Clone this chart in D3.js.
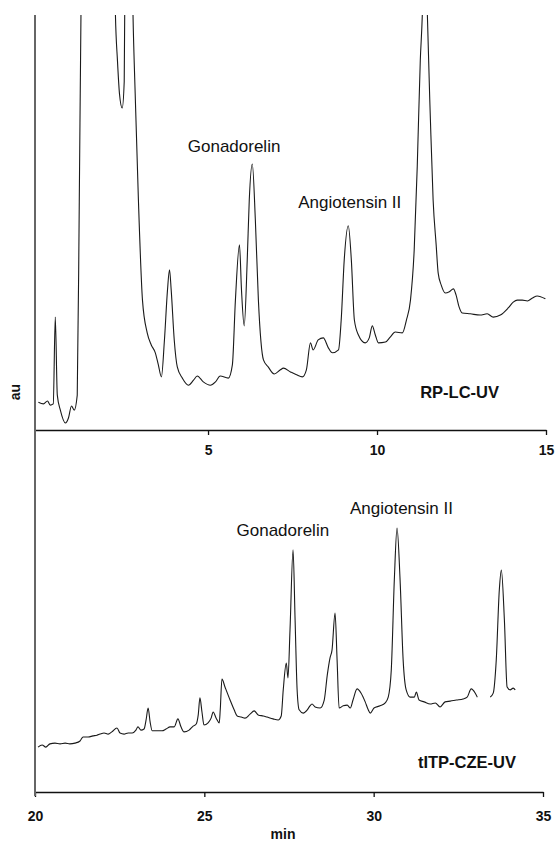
<!DOCTYPE html>
<html>
<head>
<meta charset="utf-8">
<script src="https://cdn.jsdelivr.net/npm/d3@7"></script>
<style>
  body { margin: 0; background: #fff; }
  svg { display: block; font-family: "Liberation Sans", Arial, sans-serif; }
</style>
</head>
<body>
<div id="chart"></div>
<script>
// RP-LC-UV trace: retention time (min), absorbance (arbitrary, 0-100 = panel height)
const lcTime = [-0.02, 0.13, 0.25, 0.33, 0.42, 0.48, 0.54, 0.63, 0.78, 0.87, 0.96, 1.04, 1.13, 1.19, 1.24, 1.3, 1.6, 2.0, 2.2, 2.26,
  2.32, 2.38, 2.46, 2.52, 2.56, 2.62, 2.72, 2.78, 2.85, 2.94, 3.06, 3.2, 3.32, 3.44, 3.53, 3.62, 3.71, 3.8, 3.86, 3.91,
  4.0, 4.09, 4.24, 4.42, 4.57, 4.68, 4.86, 5.07, 5.22, 5.36, 5.6, 5.72, 5.81, 5.93, 5.99, 6.07, 6.16, 6.22, 6.31, 6.4,
  6.49, 6.64, 6.78, 6.96, 7.14, 7.23, 7.44, 7.62, 7.79, 7.91, 8.03, 8.11, 8.26, 8.41, 8.56, 8.68, 8.86, 8.94, 9.03, 9.15,
  9.24, 9.33, 9.45, 9.65, 9.77, 9.86, 9.95, 10.04, 10.25, 10.39, 10.54, 10.75, 10.87, 10.99, 11.1, 11.19, 11.28, 11.34, 11.42, 11.49,
  11.58, 11.66, 11.75, 11.81, 11.9, 12.02, 12.14, 12.26, 12.34, 12.43, 12.52, 12.76, 13.05, 13.26, 13.44, 13.65, 13.88, 14.03, 14.15, 14.3,
  14.45, 14.6, 14.74, 14.98];
const lcSignal = [6.7, 6.3, 7.0, 6.0, 6.3, 27.2, 8.4, 4.8, 1.7, 2.9, 5.8, 4.8, 8.4, 55, 100, 130, 140, 140, 130, 100,
  89, 81, 77.6, 84, 130, 140, 130, 100, 79.5, 55.4, 31.3, 23.4, 20.5, 18.6, 15.7, 12.8, 21.7, 33.7, 38.6, 33.7,
  21.7, 15.2, 12.5, 10.8, 12.0, 13.0, 11.6, 10.8, 11.6, 13.0, 12.5, 15.7, 31.3, 44.6, 33.7, 25.1, 41, 55.4, 64.1, 50.6,
  31.3, 16.9, 15.2, 13.5, 14.5, 14.9, 14.0, 13.3, 12.8, 14.5, 21.0, 19.3, 21.7, 22.2, 19.8, 18.6, 19.3, 26.5, 41, 49.2,
  41, 26.5, 22.9, 21.0, 22.2, 25.1, 22.9, 21.0, 21.2, 22.4, 23.6, 23.4, 26.5, 31.3, 43.4, 63.4, 89, 100, 130, 100,
  74.7, 55.4, 44.6, 37.8, 34.9, 33.0, 33.3, 34.0, 32.5, 29.6, 28.2, 28.0, 27.7, 28.0, 27.2, 27.7, 29.4, 30.8, 31.3, 31.3,
  31.1, 31.8, 32.3, 31.6];

// tITP-CZE-UV trace: migration time (min), absorbance (arbitrary); null = gap in the recording
const ceTime = [20.09, 20.21, 20.32, 20.44, 20.59, 20.74, 20.89, 21.03, 21.18, 21.33, 21.42, 21.57, 21.71, 21.83, 21.92, 22.04, 22.16, 22.27, 22.42, 22.51,
  22.63, 22.75, 22.87, 22.98, 23.04, 23.13, 23.22, 23.28, 23.34, 23.4, 23.46, 23.6, 23.75, 23.87, 23.99, 24.11, 24.22, 24.31, 24.4, 24.55,
  24.67, 24.76, 24.82, 24.87, 24.93, 24.99, 25.11, 25.2, 25.26, 25.35, 25.44, 25.47, 25.52, 25.61, 25.76, 25.88, 25.97, 26.09, 26.2, 26.35,
  26.47, 26.59, 26.74, 26.85, 27.03, 27.18, 27.27, 27.33, 27.42, 27.47, 27.53, 27.62, 27.68, 27.74, 27.8, 27.92, 28.04, 28.12, 28.18, 28.27,
  28.42, 28.54, 28.63, 28.71, 28.77, 28.86, 28.92, 28.98, 29.1, 29.22, 29.31, 29.39, 29.51, 29.63, 29.75, 29.84, 29.9, 30.01, 30.19, 30.34,
  30.43, 30.52, 30.61, 30.69, 30.78, 30.87, 30.96, 31.08, 31.2, 31.26, 31.34, 31.49, 31.67, 31.82, 31.96, 32.11, 32.26, 32.44, 32.64, 32.76,
  32.88, 33.0, 33.06, 33.25, 33.44, 33.53, 33.62, 33.71, 33.77, 33.86, 33.94, 34.03, 34.12, 34.18];
const ceSignal = [12.4, 13.0, 12.4, 13.3, 13.5, 13.3, 13.5, 13.3, 13.5, 14.1, 15.2, 15.2, 15.5, 15.7, 16.0, 16.3, 16.0, 16.6, 17.7, 16.3,
  16.0, 16.3, 16.3, 17.1, 18.0, 17.1, 17.4, 19.9, 23.2, 19.3, 16.9, 16.9, 16.9, 17.4, 18.0, 18.0, 20.2, 18.0, 16.6, 17.1,
  18.2, 18.8, 21.3, 26.0, 22.1, 18.5, 19.1, 20.4, 22.1, 20.4, 19.1, 22.7, 31.2, 29.0, 25.4, 22.7, 21.0, 20.7, 20.4, 21.5,
  22.4, 21.3, 21.0, 20.7, 20.2, 19.9, 21.0, 28.2, 35.6, 31.5, 44.8, 66.9, 47.5, 28.2, 22.7, 21.8, 22.7, 23.8, 24.3, 23.5,
  23.2, 25.4, 32.3, 37.0, 39.2, 49.4, 36.5, 23.2, 23.8, 24.0, 23.2, 25.4, 28.5, 27.3, 24.9, 22.7, 21.8, 23.2, 23.8, 24.6,
  26.2, 33.7, 58.6, 72.9, 58.6, 36.5, 28.2, 26.2, 26.2, 27.6, 25.4, 24.9, 24.3, 24.6, 23.5, 24.9, 25.1, 25.4, 25.7, 26.2,
  28.5, 27.3, 26.2, null, 26.2, 27.3, 36.5, 55.8, 61.3, 47.5, 29.0, 28.2, 28.7, 28.2];

const lcTicks = [5, 10, 15];
const ceTicks = [20, 25, 30, 35];

// peak labels: [text, time, signal level where the text baseline sits]
const lcLabels = [["Gonadorelin", 4.4, 67], ["Angiotensin II", 7.67, 53.5]];
const ceLabels = [["Gonadorelin", 25.95, 70.7], ["Angiotensin II", 29.3, 76.8]];

const W = 555, H = 846;
const left = 35, right = 546;

const svg = d3.select("#chart").append("svg")
  .attr("width", W)
  .attr("height", H);

// scales
const xTop = d3.scaleLinear().domain([-0.12, 15]).range([left, right]);
const yTop = d3.scaleLinear().domain([0, 100]).range([430, 15]);
const xBot = d3.scaleLinear().domain([20, 35]).range([left, 543]);
const yBot = d3.scaleLinear().domain([0, 100]).range([792, 430]);

svg.append("clipPath").attr("id", "clipTop")
  .append("rect")
    .attr("x", left)
    .attr("y", yTop(100))
    .attr("width", right - left)
    .attr("height", yTop(0) - yTop(100));

// traces
const lcData = lcTime.map((t, i) => ({t: t, v: lcSignal[i]}));
const ceData = ceTime.map((t, i) => ({t: t, v: ceSignal[i]}));

const lcLine = d3.line()
  .x(d => xTop(d.t))
  .y(d => yTop(d.v))
  .curve(d3.curveMonotoneX);

const ceLine = d3.line()
  .defined(d => d.v !== null)
  .x(d => xBot(d.t))
  .y(d => yBot(d.v))
  .curve(d3.curveMonotoneX);

svg.append("path")
  .datum(lcData)
  .attr("clip-path", "url(#clipTop)")
  .attr("d", lcLine)
  .attr("fill", "none")
  .attr("stroke", "#1a1a1a")
  .attr("stroke-width", 1.1);

svg.append("path")
  .datum(ceData)
  .attr("d", ceLine)
  .attr("fill", "none")
  .attr("stroke", "#1a1a1a")
  .attr("stroke-width", 1.1);

// axes
function styleAxis(g) {
  g.select(".domain").attr("stroke", "#111").attr("stroke-width", 1.3);
  g.selectAll(".tick line").attr("stroke", "#111").attr("stroke-width", 1.3);
  g.selectAll(".tick text")
    .attr("fill", "#111")
    .attr("font-size", "14px")
    .attr("font-weight", "bold")
    .attr("font-family", "'Liberation Sans', Arial, sans-serif");
}

svg.append("g")
  .attr("transform", "translate(0," + yTop(0) + ")")
  .call(d3.axisBottom(xTop).tickValues(lcTicks).tickSizeInner(5).tickSizeOuter(0).tickPadding(10))
  .call(styleAxis);

svg.append("g")
  .attr("transform", "translate(0," + yBot(0) + ")")
  .call(d3.axisBottom(xBot).tickValues(ceTicks).tickSizeInner(5).tickSizeOuter(0).tickPadding(14))
  .call(styleAxis);

// shared vertical axis line
svg.append("line")
  .attr("x1", left).attr("x2", left)
  .attr("y1", yTop(100)).attr("y2", yBot(0) + 4)
  .attr("stroke", "#666")
  .attr("stroke-width", 2);

// axis titles
svg.append("text")
  .attr("transform", "translate(20,392) rotate(-90)")
  .attr("text-anchor", "middle")
  .attr("font-size", "14px")
  .attr("font-weight", "bold")
  .attr("fill", "#111")
  .text("au");

svg.append("text")
  .attr("x", 283)
  .attr("y", 839)
  .attr("text-anchor", "middle")
  .attr("font-size", "14px")
  .attr("font-weight", "bold")
  .attr("fill", "#111")
  .text("min");

// method names
svg.append("text")
  .attr("x", 499).attr("y", 398)
  .attr("text-anchor", "end")
  .attr("font-size", "16.5px")
  .attr("font-weight", "bold")
  .attr("fill", "#111")
  .text("RP-LC-UV");

svg.append("text")
  .attr("x", 516).attr("y", 768)
  .attr("text-anchor", "end")
  .attr("font-size", "16.5px")
  .attr("font-weight", "bold")
  .attr("fill", "#111")
  .text("tITP-CZE-UV");

// peak labels
svg.selectAll(".lcLabel")
  .data(lcLabels)
  .enter().append("text")
    .attr("class", "lcLabel")
    .attr("x", d => xTop(d[1]))
    .attr("y", d => yTop(d[2]))
    .attr("font-size", "17px")
    .attr("fill", "#111")
    .text(d => d[0]);

svg.selectAll(".ceLabel")
  .data(ceLabels)
  .enter().append("text")
    .attr("class", "ceLabel")
    .attr("x", d => xBot(d[1]))
    .attr("y", d => yBot(d[2]))
    .attr("font-size", "17px")
    .attr("fill", "#111")
    .text(d => d[0]);
</script>
</body>
</html>
